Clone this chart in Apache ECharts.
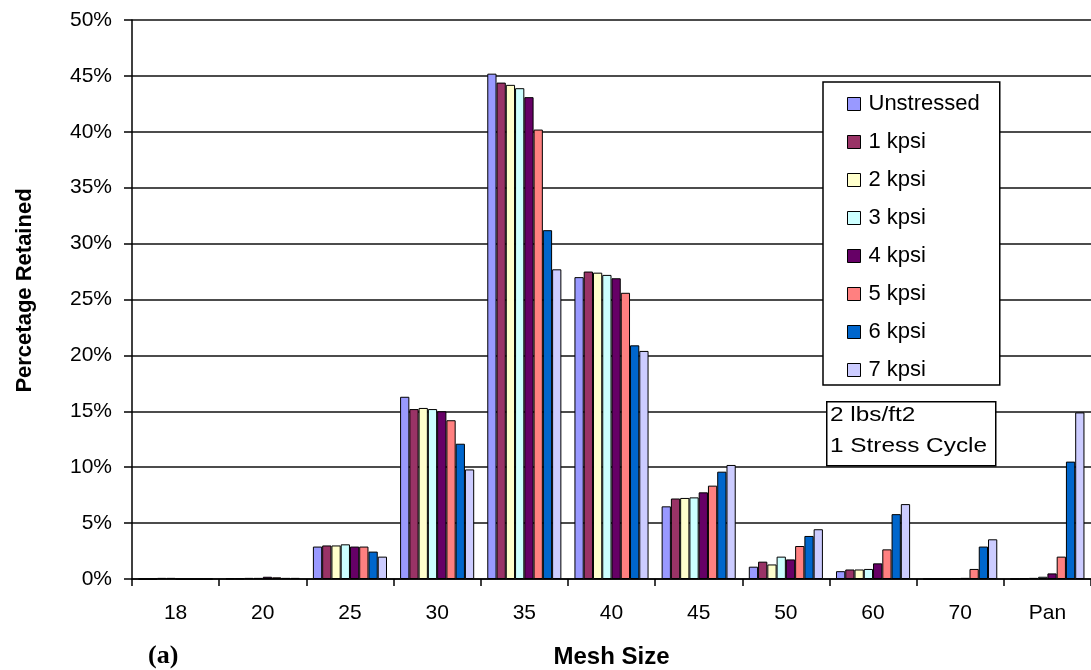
<!DOCTYPE html>
<html>
<head>
<meta charset="utf-8">
<script src="https://cdn.jsdelivr.net/npm/echarts@6/dist/echarts.min.js"></script>
<style>html,body{margin:0;padding:0;background:#fff;}#c{width:1091px;height:670px;}</style>
</head>
<body>
<div id="c"></div>
<script>
const categories = ['18', '20', '25', '30', '35', '40', '45', '50', '60', '70', 'Pan'];
const seriesNames = ['Unstressed', '1 kpsi', '2 kpsi', '3 kpsi', '4 kpsi', '5 kpsi', '6 kpsi', '7 kpsi'];
const colors = ['#9999FF', '#993366', '#FFFFCC', '#CCFFFF', '#660066', '#FF8080', '#0066CC', '#CCCCFF'];
const unstressed = [0, 0.05, 2.9, 16.3, 45.2, 27.0, 6.5, 1.1, 0.7, 0, 0];
const kpsi1 = [0, 0.05, 3.0, 15.2, 44.4, 27.5, 7.2, 1.55, 0.85, 0, 0.05];
const kpsi2 = [0.1, 0.1, 3.0, 15.3, 44.2, 27.4, 7.25, 1.3, 0.85, 0, 0.1];
const kpsi3 = [0.1, 0.1, 3.1, 15.2, 43.9, 27.2, 7.3, 2.0, 0.9, 0.05, 0.2];
const kpsi4 = [0, 0.2, 2.9, 15.0, 43.1, 26.9, 7.75, 1.75, 1.4, 0.1, 0.5];
const kpsi5 = [0, 0.15, 2.9, 14.2, 40.2, 25.6, 8.35, 2.95, 2.65, 0.9, 2.0];
const kpsi6 = [0, 0.1, 2.45, 12.1, 31.2, 20.9, 9.6, 3.85, 5.8, 2.9, 10.5];
const kpsi7 = [0, 0.1, 2.0, 9.8, 27.7, 20.4, 10.2, 4.45, 6.7, 3.55, 14.9];
const allValues = [unstressed, kpsi1, kpsi2, kpsi3, kpsi4, kpsi5, kpsi6, kpsi7];
const yTicks = [0, 5, 10, 15, 20, 25, 30, 35, 40, 45, 50];
const noteLines = ['2 lbs/ft2', '1 Stress Cycle'];

const chart = echarts.init(document.getElementById('c'), null, {renderer: 'canvas'});
const font = 'Liberation Sans, Arial, sans-serif';
chart.setOption({
  animation: false,
  backgroundColor: '#fff',
  grid: {left: 132, top: 20, right: 0, bottom: 91, containLabel: false, outerBoundsMode: 'none'},
  xAxis: {
    type: 'category',
    data: categories,
    boundaryGap: true,
    axisLine: {lineStyle: {color: '#000', width: 1.5}},
    axisTick: {show: true, length: 7, lineStyle: {color: '#000', width: 1.5}},
    axisLabel: {color: '#000', fontFamily: font, fontSize: 21, margin: 24},
    name: 'Mesh Size',
    nameLocation: 'middle',
    nameGap: 66,
    nameTextStyle: {color: '#000', fontFamily: font, fontSize: 24, fontWeight: 'bold'}
  },
  yAxis: {
    type: 'value',
    min: 0, max: 50, interval: 5,
    axisLine: {show: true, lineStyle: {color: '#000', width: 1.5}},
    axisTick: {show: true, length: 8, lineStyle: {color: '#000', width: 1.5}},
    splitLine: {show: true, lineStyle: {color: '#111', width: 1.5}},
    axisLabel: {color: '#000', fontFamily: font, fontSize: 21, margin: 20, formatter: v => yTicks.includes(v) ? v + '%' : ''},
    name: 'Percetage Retained',
    nameLocation: 'middle',
    nameGap: 96,
    nameRotate: 90,
    nameTextStyle: {color: '#000', fontFamily: font, fontSize: 22, fontWeight: 'bold', padding: [0, 0, 0, 18]}
  },
  legend: {
    orient: 'vertical',
    left: 823, top: 82,
    data: seriesNames,
    icon: 'rect',
    itemWidth: 13, itemHeight: 13,
    itemGap: 16,
    backgroundColor: '#fff',
    borderColor: '#000', borderWidth: 1.5,
    padding: [11, 20, 4, 24],
    textStyle: {color: '#000', fontFamily: font, fontSize: 22, padding: [0, 0, 0, 3]},
    selectedMode: false,
    itemStyle: {borderColor: '#000', borderWidth: 1}
  },
  graphic: [
    {type: 'rect', left: 826, top: 401, shape: {width: 169, height: 64}, style: {fill: '#fff', stroke: '#000', lineWidth: 1.5}, z: 100},
    {type: 'text', x: 830, y: 405, scaleX: 1.16, style: {text: noteLines[0], fill: '#000', font: '21px ' + font}, z: 101},
    {type: 'text', x: 830, y: 436, scaleX: 1.16, style: {text: noteLines[1], fill: '#000', font: '21px ' + font}, z: 101},
    {type: 'text', left: 148, top: 643, style: {text: '(a)', fill: '#000', font: 'bold 26px Liberation Serif, Times New Roman, serif'}, z: 101}
  ],
  series: seriesNames.map((n, i) => ({
    name: n,
    type: 'bar',
    data: allValues[i],
    barGap: '0%',
    barCategoryGap: '15%',
    itemStyle: {color: colors[i], borderColor: '#000', borderWidth: 1}
  }))
});
</script>
</body>
</html>
